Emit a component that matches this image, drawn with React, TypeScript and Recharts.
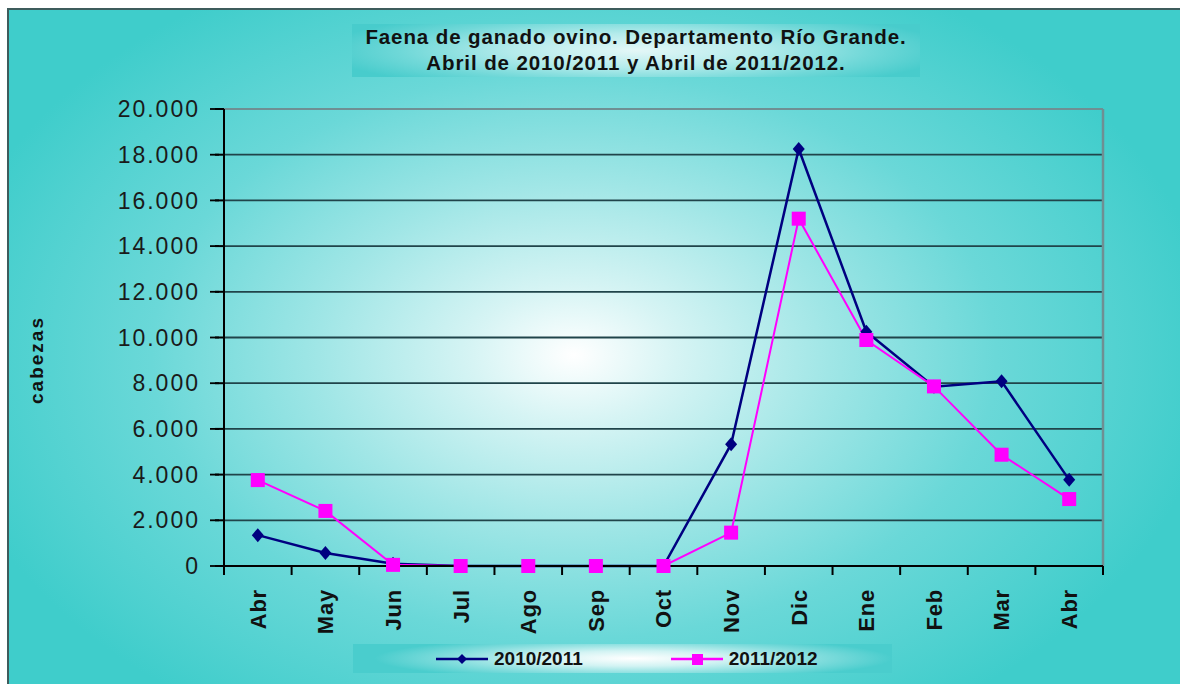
import {
  LineChart,
  Line,
  XAxis,
  YAxis,
  CartesianGrid,
  Legend,
  ReferenceLine,
} from "recharts";

const months = ["Abr", "May", "Jun", "Jul", "Ago", "Sep", "Oct", "Nov", "Dic", "Ene", "Feb", "Mar", "Abr"];
const faena2010 = [1350, 570, 100, 0, 0, 0, 0, 5330, 18250, 10250, 7850, 8080, 3770];
const faena2011 = [3760, 2410, 50, 0, 0, 0, 0, 1460, 15200, 9890, 7860, 4870, 2930];
const yTicks = [0, 2000, 4000, 6000, 8000, 10000, 12000, 14000, 16000, 18000, 20000];
// category slots: each month sits in the middle of its slot, separators on the whole numbers
const slotEdges = [0, 1, 2, 3, 4, 5, 6, 7, 8, 9, 10, 11, 12, 13];
const slotCenters = [0.5, 1.5, 2.5, 3.5, 4.5, 5.5, 6.5, 7.5, 8.5, 9.5, 10.5, 11.5, 12.5];

const data = months.map((m, i) => ({ month: m, slot: slotCenters[i], s2010: faena2010[i], s2011: faena2011[i] }));

const fmt = (v: number) => String(v).replace(/\B(?=(\d{3})+(?!\d))/g, ".");

const FONT = "Arial, 'Liberation Sans', sans-serif";
const NAVY = "#000080";
const PINK = "#FF00FF";

function Diamond(props: any) {
  const { cx, cy, index } = props;
  if (cx == null || cy == null) return <g key={`d${index}`} />;
  return (
    <path
      key={`d${index}`}
      d={`M${cx} ${cy - 7} L${cx + 6} ${cy} L${cx} ${cy + 7} L${cx - 6} ${cy} Z`}
      fill={NAVY}
    />
  );
}

function Square(props: any) {
  const { cx, cy, index } = props;
  if (cx == null || cy == null) return <g key={`s${index}`} />;
  return <rect key={`s${index}`} x={cx - 7} y={cy - 7} width={14} height={14} fill={PINK} />;
}

function MonthTick(props: any) {
  const { x, y, payload } = props;
  const ty = y + 22;
  const label = months[Math.floor(payload.value)];
  return (
    <text
      x={x}
      y={ty}
      dy="0.36em"
      transform={`rotate(-90, ${x}, ${ty})`}
      textAnchor="end"
      fontFamily={FONT}
      fontWeight="bold"
      fontSize={22}
      letterSpacing={0.8}
      fill="#111"
    >
      {label}
    </text>
  );
}

function ValueTick(props: any) {
  const { x, y, payload } = props;
  return (
    <g>
      <line x1={x + 10} y1={y} x2={x + 19} y2={y} stroke="#000" strokeWidth={1.8} />
      <text
        x={x}
        y={y}
        dy="0.355em"
        textAnchor="end"
        fontFamily={FONT}
        fontSize={23}
        letterSpacing={2}
        fill="#1a1a1a"
      >
        {fmt(payload.value)}
      </text>
    </g>
  );
}

function LegendBox(props: any) {
  const items = props.payload || [];
  return (
    <div
      style={{
        width: 539,
        height: 29,
        display: "flex",
        alignItems: "center",
        paddingLeft: 83,
        boxSizing: "border-box",
        background:
          "radial-gradient(ellipse 48% 75% at 52% 50%, #ffffff 0%, #d2f3f3 35%, #86dede 70%, #4acdcd 100%)",
        fontFamily: FONT,
        fontWeight: "bold",
        fontSize: 19,
        color: "#111",
      }}
    >
      {items.map((it: any, i: number) => (
        <div key={i} style={{ display: "flex", alignItems: "center", marginRight: 88 }}>
          <svg width={52} height={16} style={{ marginRight: 6 }}>
            <line x1={0} y1={8} x2={52} y2={8} stroke={it.color} strokeWidth={2.5} />
            {it.dataKey === "s2010" ? (
              <path d="M26 3 L31 8 L26 13 L21 8 Z" fill={NAVY} />
            ) : (
              <rect x={21} y={3} width={11} height={11} fill={PINK} />
            )}
          </svg>
          <span>{it.value}</span>
        </div>
      ))}
    </div>
  );
}

export default function App() {
  return (
    <div style={{ position: "fixed", left: 0, top: 0, width: 1180, height: 684, overflow: "hidden", background: "#fff" }}>
      <div
        style={{
          position: "absolute",
          left: 7,
          top: 8,
          width: 1173,
          height: 676,
          boxSizing: "border-box",
          borderLeft: "2px solid #3e5c5c",
          borderTop: "2px solid #3e5c5c",
          background:
            "radial-gradient(ellipse 640px 430px at 565px 345px, #ffffff 0%, #d6f4f4 16%, #a0e6e6 40%, #6ad8d8 66%, #3fcdcb 100%)",
        }}
      />
      <div
        style={{
          position: "absolute",
          left: 352,
          top: 24,
          width: 568,
          height: 53,
          background:
            "radial-gradient(ellipse 55% 80% at 50% 50%, #e4f7f7 0%, #b4ebeb 40%, #70d8d8 75%, #48cccc 100%)",
          fontFamily: FONT,
          fontWeight: "bold",
          fontSize: 20.5,
          letterSpacing: 0.9,
          lineHeight: "26px",
          color: "#111",
          textAlign: "center",
          boxSizing: "border-box",
        }}
      >
        <div>Faena de ganado ovino. Departamento Río Grande.</div>
        <div>Abril de 2010/2011 y Abril de 2011/2012.</div>
      </div>
      <div style={{ position: "absolute", left: 0, top: 0 }}>
        <LineChart width={1180} height={684} data={data} margin={{ top: 109, right: 77, bottom: 58, left: 24 }}>
          <CartesianGrid xAxisId="a_edges" vertical={false} stroke="#20444a" strokeWidth={1.8} />
          <XAxis
            xAxisId="a_edges"
            dataKey="slot"
            type="number"
            domain={[0, 13]}
            ticks={slotEdges}
            interval={0}
            allowDataOverflow
            tick={{ fontSize: 0, fill: "none" }}
            tickFormatter={() => ""}
            stroke="#000"
            strokeWidth={2}
            tickSize={9}
            tickLine
            axisLine
            height={1}
          />
          <XAxis
            xAxisId="b_cat"
            dataKey="slot"
            type="number"
            domain={[0, 13]}
            ticks={slotCenters}
            interval={0}
            allowDataOverflow
            tick={<MonthTick />}
            tickLine={false}
            axisLine={false}
            tickSize={0}
            tickMargin={0}
            height={59}
          />
          <YAxis
            domain={[0, 20000]}
            ticks={yTicks}
            interval={0}
            width={200}
            stroke="#000"
            strokeWidth={2}
            tickSize={9}
            tickMargin={15}
            tickLine
            axisLine
            tick={<ValueTick />}
            label={{
              content: (p: any) => {
                const vb = p.viewBox || { x: 24, y: 109 };
                const lx = vb.x + 19;
                const ly = 360;
                return (
                  <text
                    x={lx}
                    y={ly}
                    transform={`rotate(-90, ${lx}, ${ly})`}
                    textAnchor="middle"
                    fontFamily={FONT}
                    fontWeight="bold"
                    fontSize={19}
                    letterSpacing={2}
                    fill="#111"
                  >
                    cabezas
                  </text>
                );
              },
            }}
          />
          <ReferenceLine xAxisId="a_edges" y={20000} stroke="#6f8f93" strokeWidth={2} />
          <ReferenceLine xAxisId="a_edges" x={13} stroke="#6f8f93" strokeWidth={2.5} />
          <Line
            xAxisId="b_cat"
            type="linear"
            dataKey="s2010"
            name="2010/2011"
            stroke={NAVY}
            strokeWidth={2.5}
            dot={(p: any) => <Diamond {...p} />}
            activeDot={false}
            isAnimationActive={false}
          />
          <Line
            xAxisId="b_cat"
            type="linear"
            dataKey="s2011"
            name="2011/2012"
            stroke={PINK}
            strokeWidth={2}
            dot={(p: any) => <Square {...p} />}
            activeDot={false}
            isAnimationActive={false}
          />
          <Legend
            layout="horizontal"
            verticalAlign="middle"
            align="center"
            wrapperStyle={{ left: 353, top: 644, width: 539, height: 29 }}
            content={<LegendBox />}
          />
        </LineChart>
      </div>
    </div>
  );
}
